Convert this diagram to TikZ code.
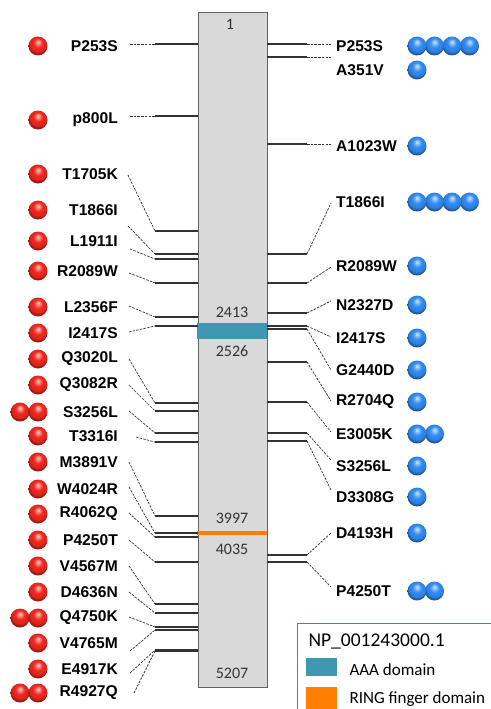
\documentclass[tikz,border=0pt]{standalone}
\usepackage{fontspec}
\setmainfont{Liberation Sans}
\newfontfamily\calibri{Carlito}
\usetikzlibrary{calc}
\definecolor{barGray}{RGB}{217,217,217}
\definecolor{barEdge}{RGB}{100,100,100}
\definecolor{lineGray}{RGB}{50,50,50}
\definecolor{aaaTeal}{RGB}{62,152,178}
\definecolor{ringOrange}{RGB}{255,128,0}
\definecolor{legendBlue}{RGB}{88,124,168}
\definecolor{ballRed}{RGB}{242,40,30}
\definecolor{ballBlue}{RGB}{50,140,245}
\pgfdeclareradialshading{redGloss}{\pgfpoint{0bp}{11bp}}{%
  color(0bp)=(ballRed!25!white); color(5bp)=(ballRed!55!white);
  color(12bp)=(ballRed); color(22bp)=(ballRed!90!black);
  color(25bp)=(ballRed!65!black); color(50bp)=(ballRed!65!black)}
\pgfdeclareradialshading{blueGloss}{\pgfpoint{0bp}{11bp}}{%
  color(0bp)=(ballBlue!25!white); color(5bp)=(ballBlue!55!white);
  color(12bp)=(ballBlue); color(22bp)=(ballBlue!90!black);
  color(25bp)=(ballBlue!65!black); color(50bp)=(ballBlue!65!black)}

\begin{document}
\begin{tikzpicture}[x=1pt, y=-1pt,
  mut/.style={font=\fontsize{15.6}{17}\selectfont\bfseries, inner sep=0pt},
  ballR/.style={circle, minimum size=19pt, inner sep=0pt, shading=redGloss},
  ballB/.style={circle, minimum size=19pt, inner sep=0pt, shading=blueGloss},
  stub/.style={lineGray, line width=1.2pt},
  lead/.style={lineGray, line width=0.7pt, dash pattern=on 2.5pt off 1.2pt},
  aaNum/.style={font=\calibri\fontsize{16}{18}\selectfont, text=black!80},
  legTxt/.style={font=\calibri\fontsize{17}{19}\selectfont, anchor=west}
]
  \useasboundingbox (0,0) rectangle (490,709);

  % protein bar
  \node[draw=barEdge, fill=barGray, line width=0.8pt, inner sep=0pt,
        minimum width=69pt, minimum height=675pt] (prot) at (232.5,349.5) {};
  \fill[aaaTeal] (197,323) rectangle (267,339);
  \fill[ringOrange] (197,531) rectangle (267,535);

  \node[aaNum] (p1)    at (230,24)  {1};
  \node[aaNum] (p2413) at (232,312) {2413};
  \node[aaNum] (p2526) at (232,351) {2526};
  \node[aaNum] (p3997) at (232,518) {3997};
  \node[aaNum] (p4035) at (232,549) {4035};
  \node[aaNum] (p5207) at (232,673) {5207};

  % left side mutations
  \foreach \txt/\ly/\sx/\sy/\by/\nb [count=\i] in {
      P253S/46/130/44/44/1, p800L/120/130/116/116/1,
      T1705K/174/128/175/231/1, T1866I/210/128/226/254/1,
      L1911I/241/130/249/259/1, R2089W/271/129/273/283/1,
      L2356F/307/129/306/317/1, I2417S/333/129/332/326/1,
      Q3020L/359/129/359/403/1, Q3082R/385/129/385/411/1,
      S3256L/412/129/411/433/2, T3316I/436/136/437/442/1,
      M3891V/462/129/462/516/1, W4024R/489/129/487/533/1,
      R4062Q/514/129/513/537/1, P4250T/540/129/540/562/1,
      V4567M/566/129/566/604/1, D4636N/592/129/592/613/1,
      Q4750K/618/129/617/627/2, V4765M/643/130/651/630/1,
      E4917K/669/130/673/650/1, R4927Q/693/134/693/651/2}{
    \node[mut, anchor=east] (L\i) at (118,\ly) {\txt};
    \coordinate (Ls\i) at (\sx,\sy);
    \coordinate (Lb\i) at (155,\by);
    \draw[lead] (Ls\i) -- (Lb\i);
    \draw[stub] (Lb\i) -- (Lb\i -| prot.west);
    \foreach \k in {\nb,...,1}
      \node[ballR] (Lball\i-\k) at ({56-18*\k},\ly) {};
  }

  % right side mutations
  \foreach \txt/\ly/\ey/\by/\nb [count=\i] in {
      P253S/46/44/44/4, A351V/70/57/57/1, A1023W/146/144/144/1,
      T1866I/202/203/254/4, R2089W/266/267/283/1,
      N2327D/305/301/313/1, I2417S/338/337/326/1,
      G2440D/370/370/329/1, R2704Q/402/401/362/1,
      E3005K/434/432/402/2, S3256L/466/460/433/1,
      D3308G/497/490/441/1, D4193H/533/533/555/1,
      P4250T/591/587/562/2}{
    \node[mut, anchor=west] (R\i) at (336,\ly) {\txt};
    \coordinate (Re\i) at (331,\ey);
    \coordinate (Rb\i) at (307,\by);
    \draw[stub] (Rb\i -| prot.east) -- (Rb\i);
    \draw[lead] (Rb\i) -- (Re\i);
    \foreach \k in {\nb,...,1}
      \node[ballB] (Rball\i-\k) at ({417+17.5*(\k-1)},\ly) {};
  }

  % legend
  \node[draw=legendBlue, fill=white, line width=1.2pt, anchor=north west,
        minimum width=210pt, minimum height=100pt] (legend) at (297,623) {};
  \node[font=\calibri\fontsize{19.5}{21}\selectfont, anchor=west] (legTitle)
    at (305,641) {NP\_001243000.1};
  \node[fill=aaaTeal, minimum width=31pt, minimum height=18pt, inner sep=0pt,
        anchor=north west] (keyAAA) at (306,658) {};
  \node[legTxt] (txtAAA) at (346,670) {AAA domain};
  \node[fill=ringOrange, minimum width=31pt, minimum height=22pt, inner sep=0pt,
        anchor=north west] (keyRING) at (306,687) {};
  \node[legTxt] (txtRING) at (346,699) {RING finger domain};
\end{tikzpicture}
\end{document}
